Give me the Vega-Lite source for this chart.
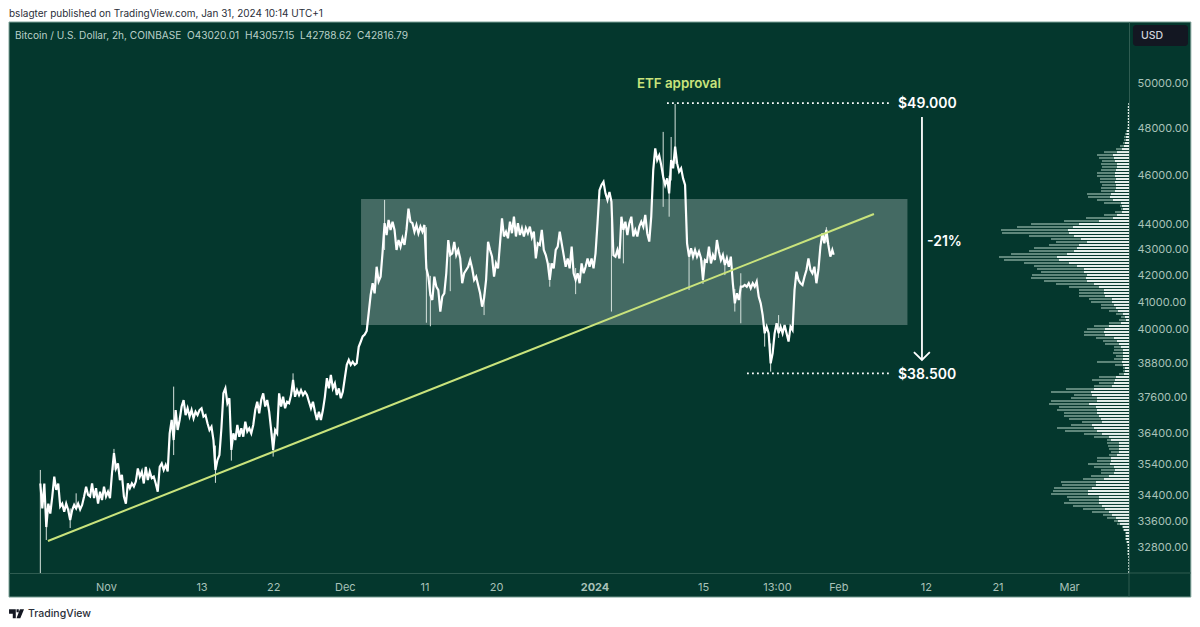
{"$schema":"https://vega.github.io/schema/vega-lite/v6.json","width":1120,"height":551,"padding":{"left":9,"top":22,"right":71,"bottom":54},"autosize":{"type":"none"},"background":"#ffffff","config":{"font":"Inter","view":{"stroke":null}},
"datasets":{
"prices":[{"t":"2023-10-23T18:00Z","p":34780},{"t":"2023-10-24T00:00Z","p":34000},{"t":"2023-10-24T06:00Z","p":34780},{"t":"2023-10-24T12:00Z","p":33430},{"t":"2023-10-24T18:00Z","p":34150},{"t":"2023-10-25T00:00Z","p":33840},{"t":"2023-10-25T06:00Z","p":34370},{"t":"2023-10-25T12:00Z","p":35000},{"t":"2023-10-25T18:00Z","p":34576},{"t":"2023-10-26T00:00Z","p":34780},{"t":"2023-10-26T06:00Z","p":34060},{"t":"2023-10-26T12:00Z","p":34150},{"t":"2023-10-26T18:00Z","p":33900},{"t":"2023-10-27T00:00Z","p":34150},{"t":"2023-10-27T06:00Z","p":33953},{"t":"2023-10-27T12:00Z","p":33646},{"t":"2023-10-27T18:00Z","p":33950},{"t":"2023-10-28T00:00Z","p":34110},{"t":"2023-10-28T06:00Z","p":34000},{"t":"2023-10-28T12:00Z","p":34150},{"t":"2023-10-28T18:00Z","p":33970},{"t":"2023-10-29T00:00Z","p":34110},{"t":"2023-10-29T06:00Z","p":34370},{"t":"2023-10-29T12:00Z","p":34680},{"t":"2023-10-29T18:00Z","p":34420},{"t":"2023-10-30T00:00Z","p":34370},{"t":"2023-10-30T06:00Z","p":34780},{"t":"2023-10-30T12:00Z","p":34320},{"t":"2023-10-30T18:00Z","p":34630},{"t":"2023-10-31T00:00Z","p":34150},{"t":"2023-10-31T06:00Z","p":34520},{"t":"2023-10-31T12:00Z","p":34260},{"t":"2023-10-31T18:00Z","p":34680},{"t":"2023-11-01T00:00Z","p":34370},{"t":"2023-11-01T06:00Z","p":34520},{"t":"2023-11-01T12:00Z","p":34320},{"t":"2023-11-01T18:00Z","p":35100},{"t":"2023-11-02T00:00Z","p":35750},{"t":"2023-11-02T06:00Z","p":35260},{"t":"2023-11-02T12:00Z","p":35420},{"t":"2023-11-02T18:00Z","p":34890},{"t":"2023-11-03T00:00Z","p":35050},{"t":"2023-11-03T06:00Z","p":34370},{"t":"2023-11-03T12:00Z","p":34150},{"t":"2023-11-03T18:00Z","p":34780},{"t":"2023-11-04T00:00Z","p":34630},{"t":"2023-11-04T06:00Z","p":34780},{"t":"2023-11-04T12:00Z","p":34680},{"t":"2023-11-04T18:00Z","p":34840},{"t":"2023-11-05T00:00Z","p":35260},{"t":"2023-11-05T06:00Z","p":35000},{"t":"2023-11-05T12:00Z","p":35160},{"t":"2023-11-05T18:00Z","p":34780},{"t":"2023-11-06T00:00Z","p":35310},{"t":"2023-11-06T06:00Z","p":34890},{"t":"2023-11-06T12:00Z","p":35160},{"t":"2023-11-06T18:00Z","p":34950},{"t":"2023-11-07T00:00Z","p":35000},{"t":"2023-11-07T06:00Z","p":34780},{"t":"2023-11-07T12:00Z","p":34520},{"t":"2023-11-07T18:00Z","p":35310},{"t":"2023-11-08T00:00Z","p":35420},{"t":"2023-11-08T06:00Z","p":35210},{"t":"2023-11-08T12:00Z","p":35370},{"t":"2023-11-08T18:00Z","p":35160},{"t":"2023-11-09T00:00Z","p":36400},{"t":"2023-11-09T06:00Z","p":36846},{"t":"2023-11-09T12:00Z","p":36180},{"t":"2023-11-09T18:00Z","p":37180},{"t":"2023-11-10T00:00Z","p":36513},{"t":"2023-11-10T06:00Z","p":36846},{"t":"2023-11-10T12:00Z","p":37300},{"t":"2023-11-10T18:00Z","p":37520},{"t":"2023-11-11T00:00Z","p":37010},{"t":"2023-11-11T06:00Z","p":37240},{"t":"2023-11-11T12:00Z","p":36960},{"t":"2023-11-11T18:00Z","p":37180},{"t":"2023-11-12T00:00Z","p":36900},{"t":"2023-11-12T06:00Z","p":37125},{"t":"2023-11-12T12:00Z","p":37010},{"t":"2023-11-12T18:00Z","p":37180},{"t":"2023-11-13T00:00Z","p":37240},{"t":"2023-11-13T06:00Z","p":36960},{"t":"2023-11-13T12:00Z","p":37010},{"t":"2023-11-13T18:00Z","p":36735},{"t":"2023-11-14T00:00Z","p":36510},{"t":"2023-11-14T06:00Z","p":36620},{"t":"2023-11-14T12:00Z","p":36180},{"t":"2023-11-14T18:00Z","p":35210},{"t":"2023-11-15T00:00Z","p":35530},{"t":"2023-11-15T06:00Z","p":35690},{"t":"2023-11-15T12:00Z","p":36570},{"t":"2023-11-15T18:00Z","p":37750},{"t":"2023-11-16T00:00Z","p":37920},{"t":"2023-11-16T06:00Z","p":37410},{"t":"2023-11-16T12:00Z","p":37580},{"t":"2023-11-16T18:00Z","p":35855},{"t":"2023-11-17T00:00Z","p":36400},{"t":"2023-11-17T06:00Z","p":36180},{"t":"2023-11-17T12:00Z","p":36680},{"t":"2023-11-17T18:00Z","p":36290},{"t":"2023-11-18T00:00Z","p":36570},{"t":"2023-11-18T06:00Z","p":36290},{"t":"2023-11-18T12:00Z","p":36790},{"t":"2023-11-18T18:00Z","p":36460},{"t":"2023-11-19T00:00Z","p":36570},{"t":"2023-11-19T06:00Z","p":36400},{"t":"2023-11-19T12:00Z","p":36680},{"t":"2023-11-19T18:00Z","p":37180},{"t":"2023-11-20T00:00Z","p":37460},{"t":"2023-11-20T06:00Z","p":37070},{"t":"2023-11-20T12:00Z","p":37520},{"t":"2023-11-20T18:00Z","p":37750},{"t":"2023-11-21T00:00Z","p":37300},{"t":"2023-11-21T06:00Z","p":37520},{"t":"2023-11-21T12:00Z","p":37125},{"t":"2023-11-21T18:00Z","p":36510},{"t":"2023-11-22T00:00Z","p":35855},{"t":"2023-11-22T06:00Z","p":36510},{"t":"2023-11-22T12:00Z","p":36400},{"t":"2023-11-22T18:00Z","p":37750},{"t":"2023-11-23T00:00Z","p":37300},{"t":"2023-11-23T06:00Z","p":37630},{"t":"2023-11-23T12:00Z","p":37240},{"t":"2023-11-23T18:00Z","p":37460},{"t":"2023-11-24T00:00Z","p":37410},{"t":"2023-11-24T06:00Z","p":37690},{"t":"2023-11-24T12:00Z","p":38210},{"t":"2023-11-24T18:00Z","p":37630},{"t":"2023-11-25T00:00Z","p":37860},{"t":"2023-11-25T06:00Z","p":37690},{"t":"2023-11-25T12:00Z","p":37860},{"t":"2023-11-25T18:00Z","p":37690},{"t":"2023-11-26T00:00Z","p":37800},{"t":"2023-11-26T06:00Z","p":37690},{"t":"2023-11-26T12:00Z","p":37460},{"t":"2023-11-26T18:00Z","p":37240},{"t":"2023-11-27T00:00Z","p":37460},{"t":"2023-11-27T06:00Z","p":37125},{"t":"2023-11-27T12:00Z","p":36846},{"t":"2023-11-27T18:00Z","p":37125},{"t":"2023-11-28T00:00Z","p":36846},{"t":"2023-11-28T06:00Z","p":37180},{"t":"2023-11-28T12:00Z","p":37630},{"t":"2023-11-28T18:00Z","p":38270},{"t":"2023-11-29T00:00Z","p":37920},{"t":"2023-11-29T06:00Z","p":38390},{"t":"2023-11-29T12:00Z","p":37920},{"t":"2023-11-29T18:00Z","p":38090},{"t":"2023-11-30T00:00Z","p":37690},{"t":"2023-11-30T06:00Z","p":37920},{"t":"2023-11-30T12:00Z","p":37580},{"t":"2023-11-30T18:00Z","p":37800},{"t":"2023-12-01T00:00Z","p":38270},{"t":"2023-12-01T06:00Z","p":38740},{"t":"2023-12-01T12:00Z","p":38910},{"t":"2023-12-01T18:00Z","p":38740},{"t":"2023-12-02T00:00Z","p":38850},{"t":"2023-12-02T06:00Z","p":38740},{"t":"2023-12-02T12:00Z","p":38800},{"t":"2023-12-02T18:00Z","p":39380},{"t":"2023-12-03T00:00Z","p":39560},{"t":"2023-12-03T06:00Z","p":39750},{"t":"2023-12-03T12:00Z","p":39820},{"t":"2023-12-03T18:00Z","p":39950},{"t":"2023-12-04T00:00Z","p":40600},{"t":"2023-12-04T06:00Z","p":41280},{"t":"2023-12-04T12:00Z","p":41720},{"t":"2023-12-04T18:00Z","p":41340},{"t":"2023-12-05T00:00Z","p":42350},{"t":"2023-12-05T06:00Z","p":41790},{"t":"2023-12-05T12:00Z","p":41970},{"t":"2023-12-05T18:00Z","p":42930},{"t":"2023-12-06T00:00Z","p":44060},{"t":"2023-12-06T06:00Z","p":43590},{"t":"2023-12-06T12:00Z","p":44190},{"t":"2023-12-06T18:00Z","p":43790},{"t":"2023-12-07T00:00Z","p":44120},{"t":"2023-12-07T06:00Z","p":43790},{"t":"2023-12-07T12:00Z","p":43000},{"t":"2023-12-07T18:00Z","p":43390},{"t":"2023-12-08T00:00Z","p":43130},{"t":"2023-12-08T06:00Z","p":43460},{"t":"2023-12-08T12:00Z","p":43200},{"t":"2023-12-08T18:00Z","p":43790},{"t":"2023-12-09T00:00Z","p":44650},{"t":"2023-12-09T06:00Z","p":44120},{"t":"2023-12-09T12:00Z","p":44060},{"t":"2023-12-09T18:00Z","p":43720},{"t":"2023-12-10T00:00Z","p":43990},{"t":"2023-12-10T06:00Z","p":43660},{"t":"2023-12-10T12:00Z","p":43920},{"t":"2023-12-10T18:00Z","p":43720},{"t":"2023-12-11T00:00Z","p":43990},{"t":"2023-12-11T06:00Z","p":42290},{"t":"2023-12-11T12:00Z","p":41970},{"t":"2023-12-11T18:00Z","p":41280},{"t":"2023-12-12T00:00Z","p":41090},{"t":"2023-12-12T06:00Z","p":41970},{"t":"2023-12-12T12:00Z","p":41590},{"t":"2023-12-12T18:00Z","p":41460},{"t":"2023-12-13T00:00Z","p":40660},{"t":"2023-12-13T06:00Z","p":41220},{"t":"2023-12-13T12:00Z","p":41340},{"t":"2023-12-13T18:00Z","p":42100},{"t":"2023-12-14T00:00Z","p":43390},{"t":"2023-12-14T06:00Z","p":42800},{"t":"2023-12-14T12:00Z","p":42870},{"t":"2023-12-14T18:00Z","p":43320},{"t":"2023-12-15T00:00Z","p":42800},{"t":"2023-12-15T06:00Z","p":43000},{"t":"2023-12-15T12:00Z","p":42670},{"t":"2023-12-15T18:00Z","p":41720},{"t":"2023-12-16T00:00Z","p":42100},{"t":"2023-12-16T06:00Z","p":42226},{"t":"2023-12-16T12:00Z","p":42350},{"t":"2023-12-16T18:00Z","p":42610},{"t":"2023-12-17T00:00Z","p":42290},{"t":"2023-12-17T06:00Z","p":41844},{"t":"2023-12-17T12:00Z","p":41970},{"t":"2023-12-17T18:00Z","p":41650},{"t":"2023-12-18T00:00Z","p":41340},{"t":"2023-12-18T06:00Z","p":40840},{"t":"2023-12-18T12:00Z","p":41160},{"t":"2023-12-18T18:00Z","p":41844},{"t":"2023-12-19T00:00Z","p":43320},{"t":"2023-12-19T06:00Z","p":43000},{"t":"2023-12-19T12:00Z","p":42740},{"t":"2023-12-19T18:00Z","p":41970},{"t":"2023-12-20T00:00Z","p":42480},{"t":"2023-12-20T06:00Z","p":42290},{"t":"2023-12-20T12:00Z","p":43260},{"t":"2023-12-20T18:00Z","p":44250},{"t":"2023-12-21T00:00Z","p":43530},{"t":"2023-12-21T06:00Z","p":43720},{"t":"2023-12-21T12:00Z","p":43460},{"t":"2023-12-21T18:00Z","p":44120},{"t":"2023-12-22T00:00Z","p":43660},{"t":"2023-12-22T06:00Z","p":44320},{"t":"2023-12-22T12:00Z","p":43530},{"t":"2023-12-22T18:00Z","p":44060},{"t":"2023-12-23T00:00Z","p":43590},{"t":"2023-12-23T06:00Z","p":43860},{"t":"2023-12-23T12:00Z","p":43530},{"t":"2023-12-23T18:00Z","p":43860},{"t":"2023-12-24T00:00Z","p":43660},{"t":"2023-12-24T06:00Z","p":43920},{"t":"2023-12-24T12:00Z","p":43500},{"t":"2023-12-24T18:00Z","p":43720},{"t":"2023-12-25T00:00Z","p":42670},{"t":"2023-12-25T06:00Z","p":43260},{"t":"2023-12-25T12:00Z","p":43200},{"t":"2023-12-25T18:00Z","p":43790},{"t":"2023-12-26T00:00Z","p":43000},{"t":"2023-12-26T06:00Z","p":42800},{"t":"2023-12-26T12:00Z","p":42480},{"t":"2023-12-26T18:00Z","p":41844},{"t":"2023-12-27T00:00Z","p":42480},{"t":"2023-12-27T06:00Z","p":42290},{"t":"2023-12-27T12:00Z","p":43000},{"t":"2023-12-27T18:00Z","p":43130},{"t":"2023-12-28T00:00Z","p":43720},{"t":"2023-12-28T06:00Z","p":43260},{"t":"2023-12-28T12:00Z","p":42800},{"t":"2023-12-28T18:00Z","p":42350},{"t":"2023-12-29T00:00Z","p":42670},{"t":"2023-12-29T06:00Z","p":42290},{"t":"2023-12-29T12:00Z","p":43130},{"t":"2023-12-29T18:00Z","p":42100},{"t":"2023-12-30T00:00Z","p":41844},{"t":"2023-12-30T06:00Z","p":42100},{"t":"2023-12-30T12:00Z","p":41720},{"t":"2023-12-30T18:00Z","p":42480},{"t":"2023-12-31T00:00Z","p":42100},{"t":"2023-12-31T06:00Z","p":42350},{"t":"2023-12-31T12:00Z","p":42670},{"t":"2023-12-31T18:00Z","p":42350},{"t":"2024-01-01T00:00Z","p":42670},{"t":"2024-01-01T06:00Z","p":42290},{"t":"2024-01-01T12:00Z","p":42870},{"t":"2024-01-01T18:00Z","p":44060},{"t":"2024-01-02T00:00Z","p":45400},{"t":"2024-01-02T06:00Z","p":45620},{"t":"2024-01-02T12:00Z","p":45750},{"t":"2024-01-02T18:00Z","p":45270},{"t":"2024-01-03T00:00Z","p":45000},{"t":"2024-01-03T06:00Z","p":45330},{"t":"2024-01-03T12:00Z","p":44930},{"t":"2024-01-03T18:00Z","p":42800},{"t":"2024-01-04T00:00Z","p":42740},{"t":"2024-01-04T06:00Z","p":43000},{"t":"2024-01-04T12:00Z","p":42670},{"t":"2024-01-04T18:00Z","p":44320},{"t":"2024-01-05T00:00Z","p":43790},{"t":"2024-01-05T06:00Z","p":44120},{"t":"2024-01-05T12:00Z","p":43590},{"t":"2024-01-05T18:00Z","p":44060},{"t":"2024-01-06T00:00Z","p":44320},{"t":"2024-01-06T06:00Z","p":43530},{"t":"2024-01-06T12:00Z","p":43790},{"t":"2024-01-06T18:00Z","p":43530},{"t":"2024-01-07T00:00Z","p":43920},{"t":"2024-01-07T06:00Z","p":44120},{"t":"2024-01-07T12:00Z","p":43920},{"t":"2024-01-07T18:00Z","p":44390},{"t":"2024-01-08T00:00Z","p":43650},{"t":"2024-01-08T06:00Z","p":43330},{"t":"2024-01-08T12:00Z","p":44320},{"t":"2024-01-08T18:00Z","p":46240},{"t":"2024-01-09T00:00Z","p":47160},{"t":"2024-01-09T06:00Z","p":46660},{"t":"2024-01-09T12:00Z","p":46860},{"t":"2024-01-09T18:00Z","p":46450},{"t":"2024-01-10T00:00Z","p":45960},{"t":"2024-01-10T06:00Z","p":45620},{"t":"2024-01-10T12:00Z","p":45890},{"t":"2024-01-10T18:00Z","p":45270},{"t":"2024-01-11T00:00Z","p":46660},{"t":"2024-01-11T06:00Z","p":46310},{"t":"2024-01-11T12:00Z","p":47230},{"t":"2024-01-11T18:00Z","p":46520},{"t":"2024-01-12T00:00Z","p":46170},{"t":"2024-01-12T06:00Z","p":46310},{"t":"2024-01-12T12:00Z","p":45890},{"t":"2024-01-12T18:00Z","p":45620},{"t":"2024-01-13T00:00Z","p":43260},{"t":"2024-01-13T06:00Z","p":42740},{"t":"2024-01-13T12:00Z","p":43065},{"t":"2024-01-13T18:00Z","p":42740},{"t":"2024-01-14T00:00Z","p":43000},{"t":"2024-01-14T06:00Z","p":42740},{"t":"2024-01-14T12:00Z","p":42935},{"t":"2024-01-14T18:00Z","p":42680},{"t":"2024-01-15T00:00Z","p":41844},{"t":"2024-01-15T06:00Z","p":42610},{"t":"2024-01-15T12:00Z","p":42550},{"t":"2024-01-15T18:00Z","p":43130},{"t":"2024-01-16T00:00Z","p":42480},{"t":"2024-01-16T06:00Z","p":42805},{"t":"2024-01-16T12:00Z","p":42610},{"t":"2024-01-16T18:00Z","p":43390},{"t":"2024-01-17T00:00Z","p":42935},{"t":"2024-01-17T06:00Z","p":42610},{"t":"2024-01-17T12:00Z","p":42805},{"t":"2024-01-17T18:00Z","p":42420},{"t":"2024-01-18T00:00Z","p":42680},{"t":"2024-01-18T06:00Z","p":42350},{"t":"2024-01-18T12:00Z","p":42740},{"t":"2024-01-18T18:00Z","p":41720},{"t":"2024-01-19T00:00Z","p":40965},{"t":"2024-01-19T06:00Z","p":41340},{"t":"2024-01-19T12:00Z","p":41090},{"t":"2024-01-19T18:00Z","p":41590},{"t":"2024-01-20T00:00Z","p":41590},{"t":"2024-01-20T06:00Z","p":41655},{"t":"2024-01-20T12:00Z","p":41590},{"t":"2024-01-20T18:00Z","p":41720},{"t":"2024-01-21T00:00Z","p":41530},{"t":"2024-01-21T06:00Z","p":41720},{"t":"2024-01-21T12:00Z","p":41590},{"t":"2024-01-21T18:00Z","p":41780},{"t":"2024-01-22T00:00Z","p":41215},{"t":"2024-01-22T06:00Z","p":40965},{"t":"2024-01-22T12:00Z","p":40530},{"t":"2024-01-22T18:00Z","p":39865},{"t":"2024-01-23T00:00Z","p":40105},{"t":"2024-01-23T06:00Z","p":39865},{"t":"2024-01-23T12:00Z","p":38790},{"t":"2024-01-23T18:00Z","p":39145},{"t":"2024-01-24T00:00Z","p":39865},{"t":"2024-01-24T06:00Z","p":40230},{"t":"2024-01-24T12:00Z","p":39865},{"t":"2024-01-24T18:00Z","p":40105},{"t":"2024-01-25T00:00Z","p":39865},{"t":"2024-01-25T06:00Z","p":40165},{"t":"2024-01-25T12:00Z","p":39865},{"t":"2024-01-25T18:00Z","p":39565},{"t":"2024-01-26T00:00Z","p":40105},{"t":"2024-01-26T06:00Z","p":39985},{"t":"2024-01-26T12:00Z","p":41465},{"t":"2024-01-26T18:00Z","p":42160},{"t":"2024-01-27T00:00Z","p":41844},{"t":"2024-01-27T06:00Z","p":41720},{"t":"2024-01-27T12:00Z","p":41655},{"t":"2024-01-27T18:00Z","p":41970},{"t":"2024-01-28T00:00Z","p":42226},{"t":"2024-01-28T06:00Z","p":42675},{"t":"2024-01-28T12:00Z","p":42226},{"t":"2024-01-28T18:00Z","p":42100},{"t":"2024-01-29T00:00Z","p":42350},{"t":"2024-01-29T06:00Z","p":41720},{"t":"2024-01-29T12:00Z","p":42226},{"t":"2024-01-29T18:00Z","p":43130},{"t":"2024-01-30T00:00Z","p":43650},{"t":"2024-01-30T06:00Z","p":43260},{"t":"2024-01-30T12:00Z","p":43790},{"t":"2024-01-30T18:00Z","p":43195},{"t":"2024-01-31T00:00Z","p":42740},{"t":"2024-01-31T06:00Z","p":43000},{"t":"2024-01-31T10:00Z","p":42817}],
"wicks":[{"t":"2023-10-23T18:00Z","p":32063,"p2":35210},{"t":"2023-10-24T12:00Z","p":33040,"p2":34000},{"t":"2023-10-27T12:00Z","p":33400,"p2":34000},{"t":"2023-10-28T06:00Z","p":34000,"p2":34470},{"t":"2023-11-02T00:00Z","p":35200,"p2":35890},{"t":"2023-11-09T12:00Z","p":35690,"p2":37980},{"t":"2023-11-14T18:00Z","p":34800,"p2":36000},{"t":"2023-11-16T18:00Z","p":35510,"p2":36500},{"t":"2023-11-22T00:00Z","p":35640,"p2":36400},{"t":"2023-11-24T12:00Z","p":37800,"p2":38440},{"t":"2023-12-06T00:00Z","p":43000,"p2":45000},{"t":"2023-12-11T06:00Z","p":40250,"p2":43900},{"t":"2023-12-11T18:00Z","p":40120,"p2":42000},{"t":"2023-12-14T06:00Z","p":41420,"p2":43000},{"t":"2023-12-18T12:00Z","p":40530,"p2":41300},{"t":"2023-12-26T18:00Z","p":41590,"p2":42500},{"t":"2023-12-30T00:00Z","p":41310,"p2":42300},{"t":"2024-01-03T12:00Z","p":40660,"p2":44900},{"t":"2024-01-05T00:00Z","p":42480,"p2":44000},{"t":"2024-01-10T00:00Z","p":44720,"p2":47870},{"t":"2024-01-10T18:00Z","p":44320,"p2":46000},{"t":"2024-01-11T00:00Z","p":45800,"p2":47650},{"t":"2024-01-11T12:00Z","p":46500,"p2":49100},{"t":"2024-01-13T06:00Z","p":41465,"p2":42900},{"t":"2024-01-15T00:00Z","p":41690,"p2":42600},{"t":"2024-01-17T18:00Z","p":42030,"p2":42600},{"t":"2024-01-19T00:00Z","p":40660,"p2":41500},{"t":"2024-01-19T18:00Z","p":40230,"p2":42100},{"t":"2024-01-22T18:00Z","p":39385,"p2":40100},{"t":"2024-01-23T12:00Z","p":38500,"p2":39500},{"t":"2024-01-24T12:00Z","p":39700,"p2":40530},{"t":"2024-01-30T12:00Z","p":43300,"p2":43900}],
"profile":[{"p":49100,"total":1,"up":0.5},{"p":48967,"total":1.5,"up":1},{"p":48832,"total":1.5,"up":1},{"p":48700,"total":1.5,"up":1},{"p":48567,"total":1.5,"up":1},{"p":48434,"total":1.5,"up":1},{"p":48300,"total":1.5,"up":1},{"p":48170,"total":1.5,"up":1},{"p":48040,"total":2,"up":1},{"p":47910,"total":3,"up":2},{"p":47780,"total":4,"up":2.5},{"p":47650,"total":5,"up":3},{"p":47519,"total":5,"up":3},{"p":47390,"total":6,"up":4},{"p":47260,"total":9,"up":5},{"p":47130,"total":13,"up":7},{"p":47000,"total":25,"up":12},{"p":46875,"total":32,"up":16},{"p":46750,"total":30,"up":15},{"p":46620,"total":27,"up":14},{"p":46495,"total":28,"up":12},{"p":46370,"total":27,"up":12},{"p":46241,"total":28,"up":13},{"p":46115,"total":32,"up":14},{"p":45990,"total":32,"up":14},{"p":45865,"total":29,"up":13},{"p":45740,"total":29,"up":14},{"p":45615,"total":27,"up":13},{"p":45490,"total":28,"up":13},{"p":45368,"total":28,"up":14},{"p":45245,"total":42,"up":18},{"p":45120,"total":41,"up":19},{"p":44998,"total":32,"up":16},{"p":44875,"total":25,"up":8},{"p":44755,"total":9,"up":7},{"p":44632,"total":8,"up":6},{"p":44510,"total":14,"up":7},{"p":44390,"total":25,"up":12},{"p":44268,"total":43,"up":16},{"p":44148,"total":65,"up":30},{"p":44028,"total":98,"up":50},{"p":43908,"total":112,"up":56},{"p":43788,"total":128,"up":61},{"p":43670,"total":127,"up":60},{"p":43550,"total":100,"up":55},{"p":43432,"total":78,"up":48},{"p":43314,"total":73,"up":42},{"p":43196,"total":80,"up":50},{"p":43078,"total":95,"up":52},{"p":42960,"total":100,"up":55},{"p":42845,"total":118,"up":62},{"p":42728,"total":130,"up":72},{"p":42611,"total":125,"up":70},{"p":42495,"total":105,"up":60},{"p":42380,"total":95,"up":52},{"p":42265,"total":92,"up":45},{"p":42150,"total":88,"up":45},{"p":42035,"total":97,"up":42},{"p":41920,"total":98,"up":43},{"p":41805,"total":85,"up":42},{"p":41692,"total":73,"up":35},{"p":41578,"total":60,"up":30},{"p":41465,"total":50,"up":25},{"p":41352,"total":50,"up":25},{"p":41240,"total":50,"up":24},{"p":41128,"total":40,"up":17},{"p":41016,"total":38,"up":17},{"p":40905,"total":28,"up":15},{"p":40793,"total":28,"up":13},{"p":40682,"total":20,"up":11},{"p":40572,"total":13,"up":6},{"p":40460,"total":8,"up":4},{"p":40350,"total":10,"up":3},{"p":40240,"total":20,"up":8},{"p":40130,"total":35,"up":20},{"p":40022,"total":42,"up":24},{"p":39913,"total":45,"up":25},{"p":39805,"total":45,"up":24},{"p":39696,"total":33,"up":15},{"p":39588,"total":26,"up":12},{"p":39480,"total":24,"up":10},{"p":39373,"total":15,"up":8},{"p":39265,"total":15,"up":6},{"p":39158,"total":16,"up":6},{"p":39052,"total":13,"up":6},{"p":38945,"total":15,"up":6},{"p":38840,"total":32,"up":7},{"p":38734,"total":14,"up":6},{"p":38628,"total":6,"up":4},{"p":38523,"total":6,"up":4},{"p":38418,"total":10,"up":5},{"p":38314,"total":30,"up":13},{"p":38210,"total":37,"up":14},{"p":38105,"total":30,"up":15},{"p":38002,"total":35,"up":17},{"p":37898,"total":63,"up":35},{"p":37795,"total":78,"up":38},{"p":37692,"total":55,"up":37},{"p":37590,"total":58,"up":32},{"p":37488,"total":78,"up":32},{"p":37386,"total":80,"up":40},{"p":37284,"total":70,"up":33},{"p":37182,"total":72,"up":32},{"p":37081,"total":65,"up":32},{"p":36980,"total":65,"up":30},{"p":36880,"total":60,"up":28},{"p":36780,"total":47,"up":27},{"p":36680,"total":58,"up":37},{"p":36580,"total":72,"up":35},{"p":36480,"total":64,"up":32},{"p":36381,"total":45,"up":27},{"p":36282,"total":35,"up":20},{"p":36183,"total":22,"up":18},{"p":36085,"total":22,"up":10},{"p":35986,"total":21,"up":10},{"p":35888,"total":20,"up":10},{"p":35790,"total":18,"up":10},{"p":35693,"total":20,"up":12},{"p":35596,"total":32,"up":18},{"p":35499,"total":32,"up":18},{"p":35402,"total":41,"up":19},{"p":35306,"total":35,"up":15},{"p":35210,"total":28,"up":14},{"p":35114,"total":28,"up":15},{"p":35018,"total":38,"up":20},{"p":34923,"total":46,"up":25},{"p":34828,"total":68,"up":33},{"p":34733,"total":67,"up":33},{"p":34639,"total":75,"up":37},{"p":34545,"total":76,"up":41},{"p":34451,"total":78,"up":41},{"p":34357,"total":62,"up":30},{"p":34263,"total":60,"up":30},{"p":34170,"total":65,"up":30},{"p":34077,"total":56,"up":27},{"p":33984,"total":46,"up":24},{"p":33892,"total":37,"up":20},{"p":33800,"total":26,"up":17},{"p":33708,"total":22,"up":13},{"p":33616,"total":15,"up":11},{"p":33525,"total":12,"up":9},{"p":33433,"total":7,"up":6},{"p":33342,"total":6,"up":5},{"p":33251,"total":4,"up":3},{"p":33161,"total":4,"up":3},{"p":33070,"total":4,"up":3},{"p":32980,"total":3,"up":2},{"p":32890,"total":2,"up":1},{"p":32800,"total":2,"up":1},{"p":32711,"total":2,"up":1},{"p":32622,"total":2,"up":1},{"p":32533,"total":1,"up":0.5},{"p":32445,"total":1,"up":0.5},{"p":32356,"total":1,"up":0.5},{"p":32268,"total":1,"up":0.5},{"p":32180,"total":1,"up":0.5},{"p":32092,"total":1,"up":0.5}]
},
"resolve":{"scale":{"x":"independent"}},
"layer":[
{"encoding":{
"x":{"field":"t","type":"temporal","title":null,"scale":{"type":"utc","domain":["2023-10-19T19:32:00Z","2024-03-08T12:30:00Z"]},"axis":{"zindex":1,"values":["2023-11-01T00:00:00Z","2023-11-13T00:00:00Z","2023-11-22T00:00:00Z","2023-12-01T00:00:00Z","2023-12-11T00:00:00Z","2023-12-20T00:00:00Z","2024-01-01T09:00:00Z","2024-01-15T00:00:00Z","2024-01-24T07:00:00Z","2024-02-01T00:00:00Z","2024-02-12T00:00:00Z","2024-02-21T00:00:00Z","2024-03-01T00:00:00Z"],"labelExpr":"utcdate(datum.value)==1 ? (utcmonth(datum.value)==0 ? '2024' : utcFormat(datum.value,'%b')) : (utcdate(datum.value)==24 ? '13:00' : utcFormat(datum.value,'%-d'))","labelFontWeight":{"condition":{"test":"utcmonth(datum.value)==0 && utcdate(datum.value)==1","value":"bold"},"value":"normal"},"ticks":false,"grid":false,"domainColor":"#2f5c51","labelColor":"#a9c2b9","labelFontSize":11,"labelPadding":8,"labelOverlap":false,"labelFlush":false,"labelBound":false}},
"y":{"field":"p","type":"quantitative","title":null,"scale":{"type":"log","domain":[32063,52897],"nice":false},"axis":{"zindex":1,"orient":"right","values":[50000,48000,46000,44000,43000,42000,41000,40000,38800,37600,36400,35400,34400,33600,32800],"format":".2f","ticks":false,"grid":false,"domainColor":"#2f5c51","labelColor":"#a9c2b9","labelFontSize":11,"labelPadding":8,"labelOverlap":false,"labelBound":false,"labelFlush":false}}},
"layer":[
{"data":{"values":[{"t":"2023-10-19T19:32:00Z","p":52897,"t2":"2024-03-16T07:00:00Z","p2":31370}]},"mark":{"type":"rect","fill":"#04372d","stroke":"#7fa399","strokeWidth":1},"encoding":{"x2":{"field":"t2"},"y2":{"field":"p2"}}},
{"data":{"values":[{"t":"2024-03-08T12:30:00Z","p":32063,"t2":"2024-03-16T07:00:00Z","p2":32063},{"t":"2024-03-08T12:30:00Z","p":32063,"t2":"2024-03-08T12:30:00Z","p2":31370}]},"mark":{"type":"rule","stroke":"#2f5c51","strokeWidth":1},"encoding":{"x2":{"field":"t2"},"y2":{"field":"p2"}}},
{"data":{"values":[{"t":"2024-03-09T00:30:00Z","p":52754,"t2":"2024-03-15T22:20:00Z","p2":51756}]},"mark":{"type":"rect","fill":"#131722","cornerRadius":3},"encoding":{"x2":{"field":"t2"},"y2":{"field":"p2"}}},
{"data":{"values":[{"t":"2023-12-03T01:00:00Z","p":45039,"t2":"2024-02-09T16:30:00Z","p2":40167}]},"mark":{"type":"rect","fill":"#ffffff","opacity":0.26},"encoding":{"x2":{"field":"t2"},"y2":{"field":"p2"}}},
{"data":{"name":"wicks"},"mark":{"type":"rule","stroke":"#d6e2dd","strokeWidth":1},"encoding":{"y2":{"field":"p2"}}},
{"data":{"name":"prices"},"mark":{"type":"line","stroke":"#ffffff","strokeWidth":2.2,"strokeJoin":"miter"}},
{"data":{"values":[{"t":"2023-10-24T17:00:00Z","p":33010},{"t":"2024-02-05T11:30:00Z","p":44430}]},"mark":{"type":"line","stroke":"#c9e37c","strokeWidth":2}},
{"data":{"values":[{"t":"2024-01-10T11:30:00Z","p":49140,"t2":"2024-02-07T11:45:00Z"},{"t":"2024-01-20T12:45:00Z","p":38440,"t2":"2024-02-07T11:45:00Z"}]},"mark":{"type":"rule","stroke":"#ffffff","strokeWidth":1.8,"strokeDash":[1.8,3.2]},"encoding":{"x2":{"field":"t2"}}},
{"data":{"values":[{"t":"2024-02-11T12:15:00Z","p":48523,"p2":38910}]},"mark":{"type":"rule","stroke":"#ffffff","strokeWidth":1.8},"encoding":{"y2":{"field":"p2"}}},
{"data":{"values":[{"t":"2024-02-10T12:00:00Z","p":39190},{"t":"2024-02-11T12:15:00Z","p":38910},{"t":"2024-02-12T12:00:00Z","p":39190}]},"mark":{"type":"line","stroke":"#ffffff","strokeWidth":1.8}},
{"data":{"values":[{"t":"2023-10-19T19:32:00Z","p":53283,"label":"bslagter published on TradingView.com, Jan 31, 2024 10:14 UTC+1"}]},"mark":{"type":"text","align":"left","baseline":"middle","fontSize":10,"color":"#2a2e39"},"encoding":{"text":{"field":"label"}}},
{"data":{"values":[{"t":"2023-10-20T13:40:00Z","p":52229,"label":"Bitcoin / U.S. Dollar, 2h, COINBASE\u00a0\u00a0O43020.01\u00a0\u00a0H43057.15\u00a0\u00a0L42788.62\u00a0\u00a0C42816.79"}]},"mark":{"type":"text","align":"left","baseline":"middle","fontSize":10.1,"color":"#b9d0c8"},"encoding":{"text":{"field":"label"}}},
{"data":{"values":[{"t":"2023-10-22T04:48:00Z","p":30890,"label":"TradingView"}]},"mark":{"type":"text","align":"left","baseline":"middle","fontSize":10.5,"fontWeight":500,"color":"#2a2e39"},"encoding":{"text":{"field":"label"}}},
{"data":{"values":[{"t":"2023-10-20T18:14:00Z","p":30900}]},"mark":{"type":"point","filled":true,"size":225,"opacity":1,"fill":"#131722","stroke":null,"shape":"M-1 -.6H-.1V.6H-.5V0H-1ZM.0 -.6h.3v.4h-.3ZM.45 -.6H1L.5 .6H.0Z"}},
{"data":{"values":[{"t":"2024-03-10T00:30:00Z","p":52229,"label":"USD"}]},"mark":{"type":"text","align":"left","baseline":"middle","fontSize":10.5,"fontWeight":500,"color":"#d1d4dc"},"encoding":{"text":{"field":"label"}}},
{"data":{"values":[{"t":"2024-01-06T17:00:00Z","p":50000,"label":"ETF approval"}]},"mark":{"type":"text","align":"left","baseline":"middle","fontSize":13.3,"fontWeight":600,"color":"#c9e37c"},"encoding":{"text":{"field":"label"}}},
{"data":{"values":[{"t":"2024-02-08T12:00:00Z","p":49090,"label":"$49.000"},{"t":"2024-02-08T12:00:00Z","p":38385,"label":"$38.500"},{"t":"2024-02-12T03:30:00Z","p":43310,"label":"-21%"}]},"mark":{"type":"text","align":"left","baseline":"middle","fontSize":14,"fontWeight":600,"color":"#ffffff"},"encoding":{"text":{"field":"label"}}}
]},
{"data":{"name":"profile"},"encoding":{"y":{"field":"p","type":"quantitative","title":null,"scale":{"type":"log","domain":[32063,52897],"nice":false},"axis":{"zindex":1,"orient":"right","values":[50000,48000,46000,44000,43000,42000,41000,40000,38800,37600,36400,35400,34400,33600,32800],"format":".2f","ticks":false,"grid":false,"domainColor":"#2f5c51","labelColor":"#a9c2b9","labelFontSize":11,"labelPadding":8,"labelOverlap":false,"labelBound":false,"labelFlush":false}}},"layer":[
{"mark":{"type":"rule","stroke":"#5f877b","strokeWidth":2},"encoding":{"x":{"field":"total","type":"quantitative","scale":{"domain":[0,1120],"reverse":true,"nice":false},"axis":null},"x2":{"datum":0}}},
{"mark":{"type":"rule","stroke":"#e4eeea","strokeWidth":2},"encoding":{"x":{"field":"up","type":"quantitative","scale":{"domain":[0,1120],"reverse":true,"nice":false},"axis":null},"x2":{"datum":0}}}
]}
]}
